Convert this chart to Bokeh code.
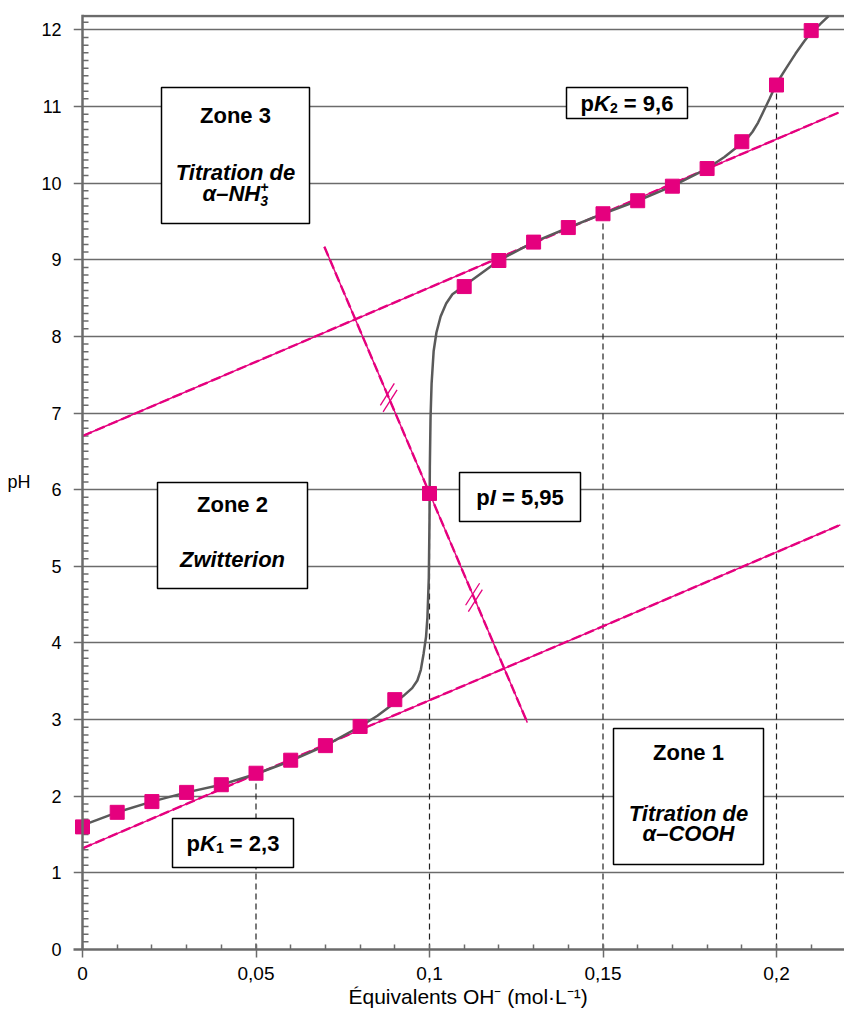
from bokeh.plotting import figure
from bokeh.models import (Range1d, SingleIntervalTicker, LinearAxis, Grid,
                          CustomJSTickFormatter, Span, Title)
from bokeh.core.properties import value
from bokeh.embed import file_html
from bokeh.resources import INLINE

# ---------------- data ----------------
marker_x = [0.00, 0.01, 0.02, 0.03, 0.04, 0.05, 0.06, 0.07, 0.08, 0.09, 0.10,
            0.11, 0.12, 0.13, 0.14, 0.15, 0.16, 0.17, 0.18, 0.19, 0.20, 0.21]
marker_pH = [1.60, 1.79, 1.93, 2.05, 2.15, 2.30, 2.47, 2.66, 2.91, 3.26, 5.95,
             8.65, 8.99, 9.23, 9.42, 9.60, 9.77, 9.96, 10.19, 10.54, 11.28, 11.99]

curve_x = [0.00, 0.01, 0.02, 0.03, 0.04, 0.05, 0.06, 0.07, 0.08, 0.085, 0.09,
           0.0925, 0.095, 0.0965, 0.0975, 0.0983, 0.0990, 0.0994, 0.0998, 0.1000,
           0.1001, 0.1003, 0.1006, 0.1012, 0.1020, 0.1032, 0.1048, 0.1066, 0.1085,
           0.11, 0.12, 0.13, 0.14, 0.15, 0.16, 0.17, 0.18, 0.185, 0.19, 0.1915,
           0.1931, 0.1947, 0.1963, 0.198, 0.20, 0.2028, 0.2055, 0.208, 0.21, 0.2125,
           0.215]
curve_pH = [1.62, 1.79, 1.93, 2.05, 2.15, 2.29, 2.46, 2.66, 2.91, 3.05, 3.22,
            3.31, 3.41, 3.51, 3.65, 3.86, 4.08, 4.33, 4.85, 5.60,
            6.30, 6.94, 7.38, 7.81, 8.05, 8.26, 8.43, 8.55, 8.61,
            8.66, 8.99, 9.23, 9.42, 9.60, 9.77, 9.96, 10.19, 10.34, 10.52, 10.58,
            10.67, 10.79, 10.94, 11.10, 11.30, 11.50, 11.69, 11.85, 11.97, 12.07,
            12.18]

equiv_x = [0.05, 0.10, 0.15, 0.20]
equiv_pH = [2.30, 5.95, 9.60, 11.28]

tangent_low_x = [0.0, 0.2184]
tangent_low_pH = [1.32, 5.54]
tangent_high_x = [0.0, 0.2179]
tangent_high_pH = [6.70, 10.92]
bisect_x = [0.0697, 0.1282]
bisect_pH = [9.17, 2.96]
slash_fracs = [0.317, 0.737]

pK1_label = "2,3"
pK2_label = "9,6"
pI_label = "5,95"

# ---------------- geometry helpers ----------------
PXX = 3470.0   # pixels per x unit
PXY = 76.64    # pixels per pH unit
X0, Y0 = 82, 949   # screen position of (0, 0)

X_START = -9 / PXX
X_END = (844 - X0) / PXX
Y_END = 12.2
Y_TOP = 12.18
TEXT_UP = 8  # px


def X(px):
    return (px - X0) / PXX


def Y(py):
    return (Y0 - py) / PXY


PINK = "#E5007E"
GRAY = "#6b6b6b"
FONT = "Liberation Sans"
NB = "\u00a0"

p = figure(width=844, height=1013,
           x_range=Range1d(X_START, X_END), y_range=Range1d(0, Y_END),
           x_axis_type=None, y_axis_type=None,
           output_backend="svg", toolbar_location=None,
           min_border_left=73, min_border_right=0,
           min_border_top=14, min_border_bottom=64)
p.outline_line_color = None
p.background_fill_color = "white"

yticker = SingleIntervalTicker(interval=1, num_minor_ticks=10)
xticker = SingleIntervalTicker(interval=0.05, num_minor_ticks=5)

# left axis: labels only (the visible axis line sits at x = 0)
yaxis = LinearAxis(ticker=yticker, axis_label="pH")
yaxis.axis_line_color = None
yaxis.major_tick_line_color = None
yaxis.minor_tick_line_color = None
yaxis.major_label_standoff = 6
yaxis.major_label_text_font = FONT
yaxis.major_label_text_font_size = "18px"
yaxis.major_label_text_color = "black"
yaxis.axis_label_orientation = "horizontal"
yaxis.axis_label_text_font = FONT
yaxis.axis_label_text_font_size = "18px"
yaxis.axis_label_text_font_style = "normal"
yaxis.axis_label_text_color = "black"
yaxis.axis_label_standoff = 8
p.add_layout(yaxis, "left")

xaxis = LinearAxis(ticker=xticker,
                   formatter=CustomJSTickFormatter(
                       code="return tick.toFixed(2).replace(/\\.?0+$/, '').replace('.', ',');"))
xaxis.axis_line_color = GRAY
xaxis.axis_line_width = 2.5
xaxis.major_tick_line_color = GRAY
xaxis.major_tick_line_width = 1.5
xaxis.minor_tick_line_color = GRAY
xaxis.minor_tick_line_width = 1.5
xaxis.major_tick_in = 0
xaxis.major_tick_out = 8
xaxis.minor_tick_in = 5
xaxis.minor_tick_out = 0
xaxis.major_label_standoff = 9
xaxis.major_label_text_font = FONT
xaxis.major_label_text_font_size = "19px"
xaxis.major_label_text_color = "black"
p.add_layout(xaxis, "below")

p.add_layout(Title(text="Équivalents OH⁻ (mol·L⁻¹)", align="left",
                   offset=348 - 73, text_font=FONT, text_font_size="21px",
                   text_font_style="normal", text_color="black", standoff=1),
             "below")

p.add_layout(Grid(dimension=1, ticker=yticker, grid_line_color=GRAY,
                  grid_line_width=1.5))

# y axis line at x = 0 and its inner minor ticks
p.add_layout(Span(location=0, dimension="height", line_color=GRAY, line_width=2.5))
minor_y = [i / 10 for i in range(1, int(Y_TOP * 10) + 1) if i % 10 != 0]
p.segment(x0=[0] * len(minor_y), x1=[6 / PXX] * len(minor_y), y0=minor_y, y1=minor_y,
          line_color=GRAY, line_width=1.5)

# top border of the frame
p.segment(x0=[0], x1=[X_END], y0=[Y_TOP], y1=[Y_TOP], line_color=GRAY, line_width=2.5)

# dashed verticals at the equivalence/half-equivalence points
p.segment(x0=equiv_x, x1=equiv_x, y0=[0] * len(equiv_x), y1=equiv_pH,
          line_color="#222222", line_width=1.2, line_dash="6 4")

# pink construction lines
for xs, ys in ((tangent_low_x, tangent_low_pH), (tangent_high_x, tangent_high_pH),
               (bisect_x, bisect_pH)):
    p.line(xs, ys, line_color=PINK, line_width=1.4)
    p.line(xs, ys, line_color=PINK, line_width=2.4, line_dash="10 4")

# double slash marks on the bisecting line
vx = (bisect_x[1] - bisect_x[0]) * PXX
vy = (bisect_pH[0] - bisect_pH[1]) * PXY
ln = (vx ** 2 + vy ** 2) ** 0.5
ux, uy = vx / ln, vy / ln
sx0, sy0, sx1, sy1 = [], [], [], []
for f in slash_fracs:
    cx = bisect_x[0] + f * (bisect_x[1] - bisect_x[0])
    cy = bisect_pH[0] + f * (bisect_pH[1] - bisect_pH[0])
    for s in (-3.5, 3.5):
        mx = cx + s * ux / PXX
        my = cy - s * uy / PXY
        sx0.append(mx - 7 / PXX)
        sy0.append(my - 11 / PXY)
        sx1.append(mx + 7 / PXX)
        sy1.append(my + 11 / PXY)
p.segment(x0=sx0, y0=sy0, x1=sx1, y1=sy1, line_color=PINK, line_width=1.3)

# titration curve and measured points
p.line(curve_x, curve_pH, line_color="#5a5a5a", line_width=2.5, line_join="round")
p.scatter(marker_x, marker_pH, marker="square", size=14, fill_color=PINK,
          line_color=PINK)

# ---------------- annotation boxes ----------------
box_left = [X(161), X(566), X(157), X(459), X(613), X(172)]
box_right = [X(309), X(687), X(307), X(580), X(763), X(293)]
box_top = [Y(87), Y(87), Y(482), Y(472), Y(728), Y(818)]
box_bottom = [Y(223), Y(118), Y(588), Y(521), Y(864), Y(867)]
p.quad(left=box_left, right=box_right, top=box_top, bottom=box_bottom,
       fill_color="white", line_color="black", line_width=1.5)

BW = {'p': .611, 'K': .722, 'I': .278, ' ': .278, NB: .278, '=': .584, ',': .278,
      'α': .62, '–': .556, 'N': .722, 'H': .722, '+': .584}


def tw(s, size):
    return sum(BW.get(c, 0.556) for c in s) * size


def txt(xpx, base_px, s, size=22, style="bold", align="center"):
    p.text(x=[X(xpx)], y=[Y(base_px - TEXT_UP)], text=[s], text_font=value(FONT),
           text_font_size=f"{size}px", text_font_style=style,
           text_align=align, text_baseline="alphabetic", text_color="black")


def rich(cx_px, base_px, parts):
    """parts: (text, size, style, rise_px, stacked_on_previous)"""
    total = 0.0
    widths = []
    for t, size, style, rise, stacked in parts:
        w = tw(t, size)
        if stacked:
            total += max(0.0, w - widths[-1])
        else:
            total += w
        widths.append(w)
    x = cx_px - total / 2
    prev_x = x
    for (t, size, style, rise, stacked), w in zip(parts, widths):
        if stacked:
            px = prev_x
        else:
            px = x
            x += w
        prev_x = px
        txt(px, base_px - rise, t, size=size, style=style, align="left")


# Zone 3
txt(235, 123, "Zone 3")
txt(235, 180, "Titration de", style="bold italic")
rich(235, 201, [("α–NH", 22, "bold italic", 0, False),
                ("3", 14, "bold italic", -7, False),
                ("+", 14, "bold italic", 7, True)])
# Zone 2
txt(232, 512, "Zone 2")
txt(232, 567, "Zwitterion", style="bold italic")
# Zone 1
txt(688, 760, "Zone 1")
txt(688, 821, "Titration de", style="bold italic")
txt(688, 841, "α–COOH", style="bold italic")

# pK / pI labels
rich(626.5, 110.5, [("p", 22, "bold", 0, False), ("K", 22, "bold italic", 0, False),
                    ("2", 14, "bold", -5, False), (NB + "=" + NB + pK2_label, 22, "bold", 0, False)])
rich(519.5, 504.5, [("p", 22, "bold", 0, False), ("I", 22, "bold italic", 0, False),
                    (NB + "=" + NB + pI_label, 22, "bold", 0, False)])
rich(232.5, 850.5, [("p", 22, "bold", 0, False), ("K", 22, "bold italic", 0, False),
                    ("1", 14, "bold", -5, False), (NB + "=" + NB + pK1_label, 22, "bold", 0, False)])

open("out.html", "w").write(file_html(p, INLINE))
